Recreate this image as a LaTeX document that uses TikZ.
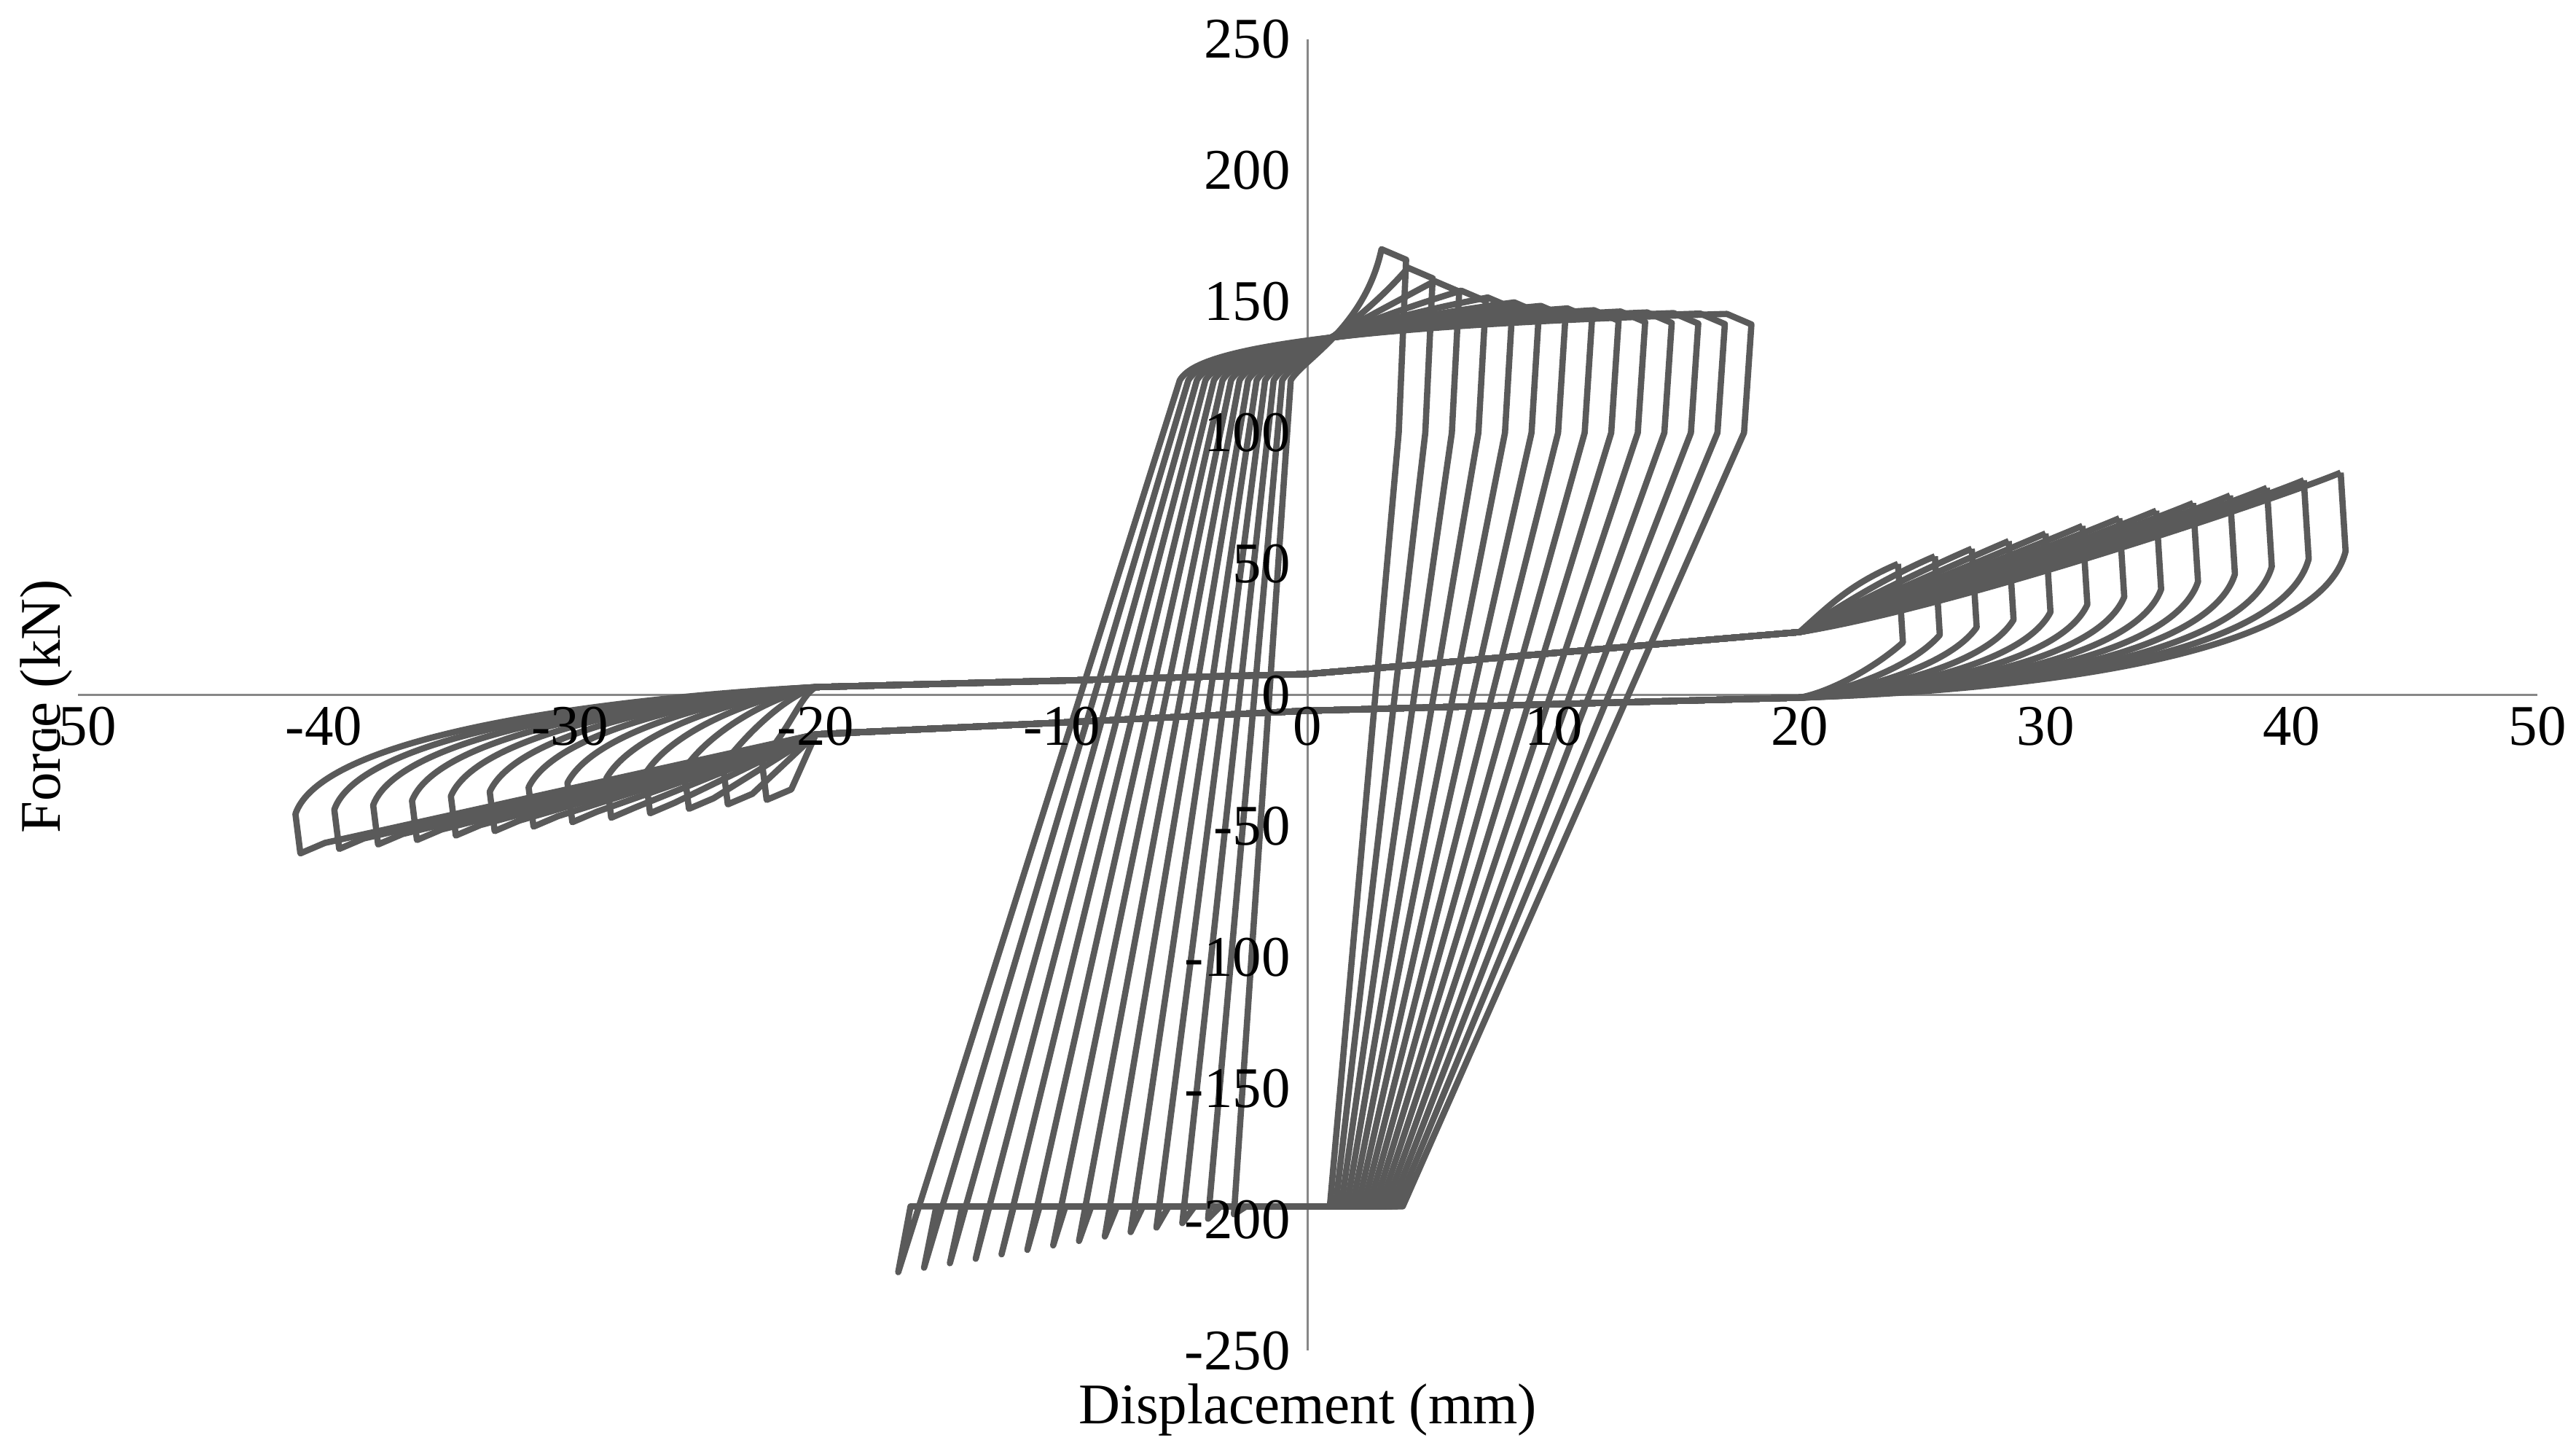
\documentclass[tikz,border=0pt]{standalone}
\usepackage{fontspec}
\setmainfont{Liberation Serif}
\definecolor{curve}{RGB}{90,90,90}
\definecolor{axisc}{RGB}{135,135,135}
\begin{document}
\begin{tikzpicture}[x=1pt,y=1pt,
  lbl/.style={font=\fontsize{35}{40}\selectfont, inner sep=0pt},
  loopline/.style={draw=curve, line width=3.8pt, line join=round}]
\useasboundingbox (0,0) rectangle (1568,-883);
\begin{scope}[shift={(796pt,-423pt)}, x=14.97pt, y=1.596pt]
  % axes
  \draw[axisc, line width=1.5pt] (-50,0) -- (50,0);
  \draw[axisc, line width=1.5pt] (0,-250) -- (0,250);
  % wide loops
  \foreach \i in {0,...,13}{
    \pgfmathsetmacro{\a}{4+\i*1.08}
    \pgfmathsetmacro{\b}{-3-\i*1.05}
    \pgfmathsetmacro{\fb}{-198-\i*1.7}
    \pgfmathsetmacro{\w}{\a-\b}
    \pgfmathsetmacro{\ua}{\b+0.33*\w}
    \pgfmathsetmacro{\da}{\a-0.3-0.4*\w}
    \pgfmathsetmacro{\ft}{145+25*exp(-\i/3)}
    \draw[loopline] (\b,\fb) -- (\ua,120) .. controls (\ua+0.5,128) and (\ua+3,140) .. (\a-1,\ft)
      -- (\a,\ft-4) -- (\a-0.3,100) -- (\da,-195) -- (\b+0.5,-195) -- cycle;
  }
  % pinched loops
  \foreach \j in {0,...,12}{
    \pgfmathsetmacro{\a}{24+\j*1.5}
    \pgfmathsetmacro{\b}{-22-\j*1.58}
    \pgfmathsetmacro{\fa}{50+\j*2.9}
    \pgfmathsetmacro{\fb}{-40-\j*1.7}
    \pgfmathsetmacro{\cr}{\a-0.7*(\a-20)}
    \pgfmathsetmacro{\cl}{\b+0.7*(-20-\b)}
    \draw[loopline] (\a,\fa) -- (\a+0.2,\fa-30) .. controls (\a-1,10) and (\cr,1) .. (20,-1)
      -- (0,-6) -- (-20,-15) -- (\b+1,\fb+4) -- (\b,\fb) -- (\b-0.2,\fb+15)
      .. controls (\b+1,-12) and (\cl,0) .. (-20,3) -- (0,8) -- (20,24)
      .. controls (\cr,34) and (\a-2,\fa-8) .. (\a,\fa);
  }
  % tick labels
  \foreach \v in {-50,-40,...,50}{
    \node[lbl] at (\v,-12) {\v};
  }
  \foreach \v in {-250,-200,...,250}{
    \node[lbl, anchor=east] at (-0.7,\v) {\v};
  }
\end{scope}
\node[lbl, rotate=90] at (28,-430) {Force (kN)};
\node[lbl] at (796,-858) {Displacement (mm)};
\end{tikzpicture}
\end{document}
